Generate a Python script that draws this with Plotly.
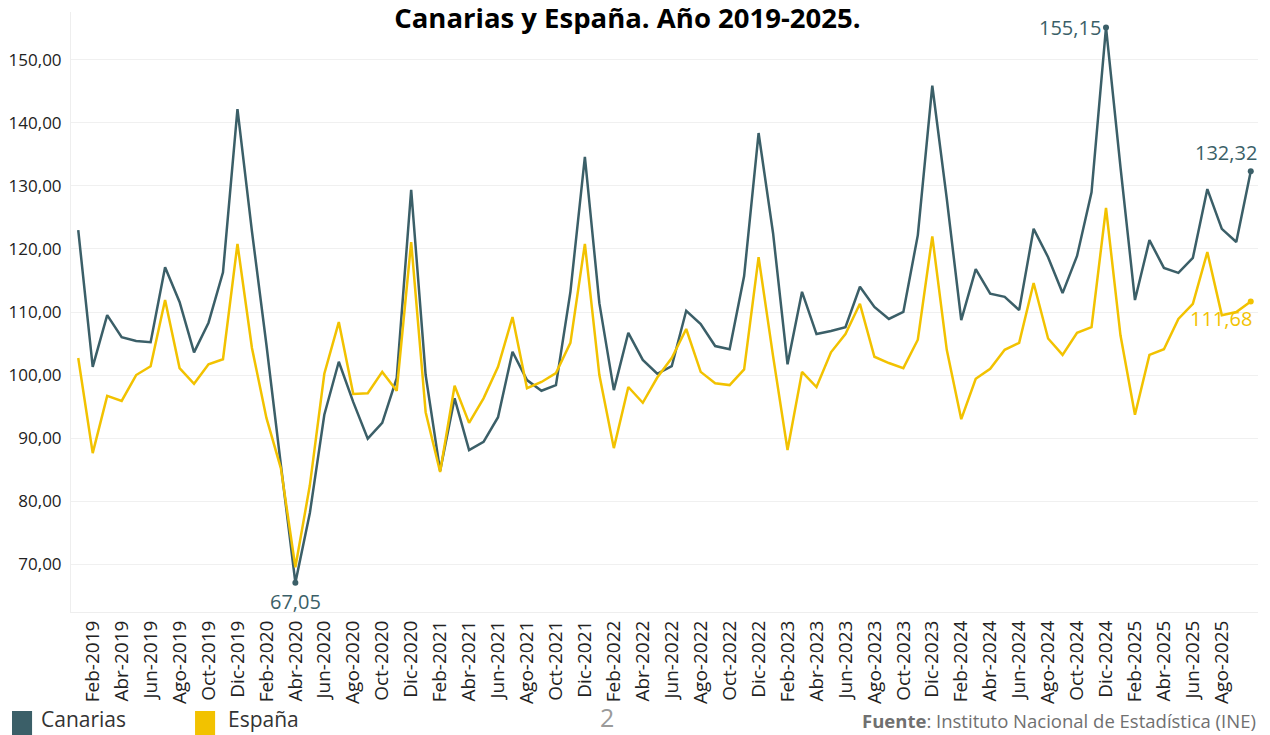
import plotly.graph_objects as go

meses = ["Ene", "Feb", "Mar", "Abr", "May", "Jun", "Jul", "Ago", "Sep", "Oct", "Nov", "Dic"]
periodos = [f"{m}-{a}" for a in range(2019, 2026) for m in meses][:82]

canarias = [
    123.0, 101.3, 109.5, 106.0, 105.4, 105.2, 117.1, 111.6, 103.6, 108.3, 116.3, 142.2,
    122.8, 104.8, 85.7, 67.05, 78.1, 93.7, 102.1, 95.7, 89.9, 92.4, 99.5, 129.4,
    100.0, 84.8, 96.3, 88.1, 89.4, 93.3, 103.7, 99.2, 97.5, 98.4, 113.2, 134.6,
    111.4, 97.6, 106.7, 102.4, 100.2, 101.4, 110.2, 108.1, 104.6, 104.1, 115.7, 138.4,
    122.5, 101.7, 113.2, 106.5, 107.0, 107.6, 114.0, 110.8, 108.9, 110.0, 122.2, 145.9,
    128.0, 108.7, 116.8, 112.9, 112.4, 110.3, 123.2, 118.7, 113.0, 118.9, 129.0, 155.15,
    133.0, 111.9, 121.4, 117.0, 116.2, 118.6, 129.5, 123.2, 121.1, 132.32,
]
espana = [
    102.7, 87.6, 96.7, 95.9, 100.0, 101.4, 111.9, 101.1, 98.6, 101.7, 102.5, 120.8,
    104.3, 93.2, 85.2, 69.5, 82.5, 100.2, 108.4, 97.0, 97.1, 100.5, 97.5, 121.1,
    94.1, 84.6, 98.3, 92.4, 96.3, 101.3, 109.2, 97.9, 98.9, 100.3, 105.1, 120.8,
    100.0, 88.4, 98.1, 95.6, 99.6, 102.7, 107.3, 100.5, 98.7, 98.4, 100.9, 118.7,
    103.0, 88.1, 100.5, 98.1, 103.6, 106.5, 111.3, 102.9, 101.9, 101.1, 105.6, 122.0,
    104.0, 93.0, 99.4, 101.0, 104.0, 105.1, 114.6, 105.8, 103.2, 106.7, 107.6, 126.5,
    106.3, 93.7, 103.2, 104.1, 108.9, 111.3, 119.5, 109.5, 110.0, 111.68,
]
etiquetas_x = periodos[1:80:2]   # Feb-2019 ... Ago-2025
ticks_y = [70, 80, 90, 100, 110, 120, 130, 140, 150]

C_CAN = "#3B5F68"
C_ESP = "#F2C200"
FONT = "Open Sans"

def fmt(v):
    return f"{v:.2f}".replace(".", ",")

fig = go.Figure()
fig.add_trace(go.Scatter(x=periodos, y=canarias, mode="lines", name="Canarias",
                         line=dict(color=C_CAN, width=2.5), hoverinfo="x+y"))
fig.add_trace(go.Scatter(x=periodos, y=espana, mode="lines", name="España",
                         line=dict(color=C_ESP, width=2.5), hoverinfo="x+y"))

# highlighted points
i_max = canarias.index(max(canarias))
i_min = canarias.index(min(canarias))
i_last = len(canarias) - 1
fig.add_trace(go.Scatter(
    x=[periodos[i_max], periodos[i_min], periodos[i_last]],
    y=[canarias[i_max], canarias[i_min], canarias[i_last]],
    mode="markers", marker=dict(color=C_CAN, size=6), showlegend=False, hoverinfo="skip"))
fig.add_trace(go.Scatter(
    x=[periodos[i_last]], y=[espana[i_last]],
    mode="markers", marker=dict(color=C_ESP, size=6), showlegend=False, hoverinfo="skip"))

# point labels
lab_font_can = dict(family=FONT, size=20, color=C_CAN)
fig.add_annotation(x=periodos[i_max], y=canarias[i_max], text=fmt(canarias[i_max]), showarrow=False,
                   xanchor="right", yanchor="middle", xshift=-3, font=lab_font_can)
fig.add_annotation(x=periodos[i_min], y=canarias[i_min], text=fmt(canarias[i_min]), showarrow=False,
                   xanchor="center", yanchor="top", yshift=-3, font=lab_font_can)
fig.add_annotation(x=periodos[i_last], y=canarias[i_last], text=fmt(canarias[i_last]), showarrow=False,
                   xanchor="right", yanchor="bottom", xshift=8, yshift=3, font=lab_font_can)
fig.add_annotation(x=periodos[i_last], y=espana[i_last], text=fmt(espana[i_last]), showarrow=False,
                   xanchor="right", yanchor="top", xshift=3, yshift=-2,
                   font=dict(family=FONT, size=20, color=C_ESP))

fig.update_layout(
    width=1270, height=735,
    margin=dict(l=71, r=12, t=12, b=123),
    paper_bgcolor="white", plot_bgcolor="white",
    showlegend=False,
    separators=",.",
    font=dict(family=FONT, color="#222222"),
    title=dict(text="<b>Canarias y España. Año 2019-2025.</b>", x=0.494, xanchor="center",
               y=0.975, yanchor="middle", font=dict(family=FONT, size=27.5, color="#000000")),
)
fig.update_xaxes(
    type="category", range=[-0.5, len(periodos) - 0.5], automargin=False,
    tickmode="array", tickvals=etiquetas_x, ticktext=etiquetas_x,
    tickangle=-90, tickfont=dict(family=FONT, size=19, color="#222222"),
    showgrid=False, showline=True, linecolor="#eeeeee", linewidth=1, ticks="",
)
fig.update_yaxes(
    range=[62.4, 157.6], tickmode="array", tickvals=ticks_y, automargin=False,
    tickformat=".2f", tickfont=dict(family=FONT, size=17, color="#222222"),
    showgrid=True, gridcolor="#f0f0f0", gridwidth=1, zeroline=False,
    showline=True, linecolor="#eeeeee", linewidth=1, ticks="", ticklabelstandoff=5,
)

# legend (bottom-left) and footer
fig.add_shape(type="rect", xref="paper", yref="paper", x0=-0.0497, x1=-0.0328, y0=-0.205, y1=-0.165,
              fillcolor=C_CAN, line=dict(width=0))
fig.add_shape(type="rect", xref="paper", yref="paper", x0=0.1045, x1=0.1214, y0=-0.205, y1=-0.165,
              fillcolor=C_ESP, line=dict(width=0))
fig.add_annotation(text="Canarias", xref="paper", yref="paper", x=-0.0269, y=-0.179,
                   xanchor="left", yanchor="middle", showarrow=False,
                   font=dict(family=FONT, size=21, color="#333333"))
fig.add_annotation(text="España", xref="paper", yref="paper", x=0.1305, y=-0.179,
                   xanchor="left", yanchor="middle", showarrow=False,
                   font=dict(family=FONT, size=21, color="#333333"))
fig.add_annotation(text="2", xref="paper", yref="paper", x=0.4515, y=-0.175,
                   xanchor="center", yanchor="middle", showarrow=False,
                   font=dict(family=FONT, size=25, color="#9a9a9a"))
fig.add_annotation(text="<b>Fuente</b>: Instituto Nacional de Estadística (INE)", xref="paper", yref="paper",
                   x=1.0, y=-0.18, xanchor="right", yanchor="middle", showarrow=False,
                   font=dict(family=FONT, size=18.5, color="#707070"))

fig.write_html("out.html", config={"displayModeBar": False},
               post_script="document.body.style.margin='0';")
